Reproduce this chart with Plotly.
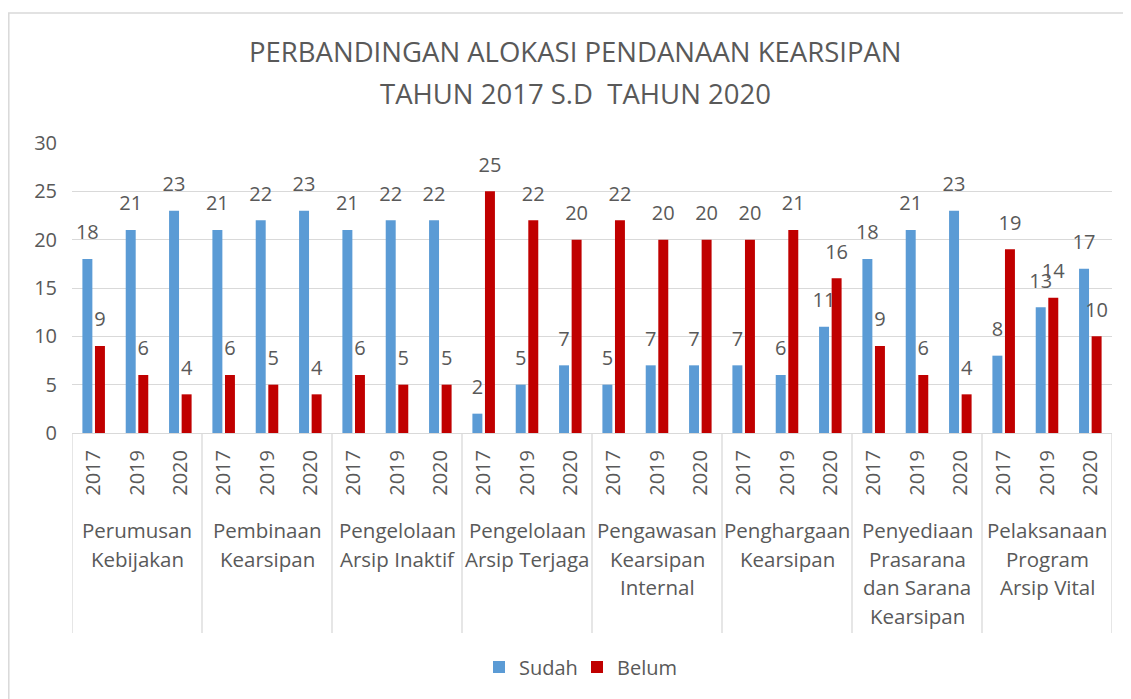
import plotly.graph_objects as go

groups = ["Perumusan<br>Kebijakan", "Pembinaan<br>Kearsipan", "Pengelolaan<br>Arsip Inaktif",
          "Pengelolaan<br>Arsip Terjaga", "Pengawasan<br>Kearsipan<br>Internal",
          "Penghargaan<br>Kearsipan", "Penyediaan<br>Prasarana<br>dan Sarana<br>Kearsipan",
          "Pelaksanaan<br>Program<br>Arsip Vital"]
years = ["2017", "2019", "2020"]
sudah = [18, 21, 23, 21, 22, 23, 21, 22, 22, 2, 5, 7, 5, 7, 7, 7, 6, 11, 18, 21, 23, 8, 13, 17]
belum = [9, 6, 4, 6, 5, 4, 6, 5, 5, 25, 22, 20, 22, 20, 20, 20, 21, 16, 9, 6, 4, 19, 14, 10]
title1 = "PERBANDINGAN ALOKASI PENDANAAN KEARSIPAN"
title2 = "TAHUN 2017 S.D  TAHUN 2020"

FONT = "Open Sans"
TXT = "#595959"
GRID = "#d9d9d9"
BLUE = "#5b9bd5"
RED = "#c00000"

n = len(sudah)
xs = list(range(n))
ticktext = [years[i % len(years)] for i in xs]

W = 0.23
OFF_S = -0.26
OFF_B = 0.03

fig = go.Figure()
fig.add_trace(go.Bar(name="Sudah", x=xs, y=sudah, width=W, offset=OFF_S, legend="legend",
                     marker=dict(color=BLUE, line=dict(width=0))))
fig.add_trace(go.Bar(name="Belum", x=xs, y=belum, width=W, offset=OFF_B, legend="legend2",
                     marker=dict(color=RED, line=dict(width=0))))

# data labels
for vals, off in ((sudah, OFF_S), (belum, OFF_B)):
    fig.add_trace(go.Scatter(x=[i + off + W / 2 for i in xs], y=vals, mode="markers+text",
                             text=[str(v) for v in vals], textposition="top center",
                             textfont=dict(family=FONT, size=20, color=TXT),
                             marker=dict(size=22, opacity=0), showlegend=False,
                             hoverinfo="skip", cliponaxis=False))

# page body has an 8px margin: figure starts at (8, 8)
OX, OY = 8, 8
PL, PT, PR, PB = 72, 143, 1112, 433   # plot area in window pixels
PLOT_H = float(PB - PT)
PLOT_W = float(PR - PL)

shapes = []
ng = len(groups)
per = len(years)
for g in range(ng + 1):
    xb = g * per - 0.5
    shapes.append(dict(type="line", xref="x", yref="paper", x0=xb, x1=xb,
                       y0=0, y1=-200 / PLOT_H, line=dict(color=GRID, width=1.3)))
# outer chart border
shapes.append(dict(type="rect", xref="paper", yref="paper",
                   x0=(8.8 - PL) / PLOT_W, x1=(1145 - PL) / PLOT_W,
                   y0=(PB - 720) / PLOT_H, y1=(PB - 13) / PLOT_H,
                   line=dict(color=GRID, width=1.5), fillcolor="rgba(0,0,0,0)", layer="below"))

annotations = []
for g, lab in enumerate(groups):
    cx = g * per + (per - 1) / 2
    for k, line in enumerate(lab.split("<br>")):
        annotations.append(dict(x=cx, xref="x", y=0, yref="paper", yanchor="middle",
                                yshift=-97 - k * 28.5, text=line, showarrow=False,
                                font=dict(family=FONT, size=20.5, color=TXT)))
annotations.append(dict(x=(575 - PL) / PLOT_W, xref="paper", y=(PB - 52) / PLOT_H, yref="paper",
                        xanchor="center", yanchor="middle", text=title1, showarrow=False,
                        font=dict(family=FONT, size=27.5, color=TXT)))
annotations.append(dict(x=(575 - PL) / PLOT_W, xref="paper", y=(PB - 93) / PLOT_H, yref="paper",
                        xanchor="center", yanchor="middle", text=title2, showarrow=False,
                        font=dict(family=FONT, size=27.5, color=TXT)))

legend_common = dict(orientation="h", xanchor="left", y=(PB - 667) / PLOT_H, yanchor="middle",
                     font=dict(family=FONT, size=20, color=TXT), itemwidth=30,
                     bgcolor="rgba(0,0,0,0)")

fig.update_layout(
    width=1131 - OX, height=699 - OY,
    margin=dict(l=PL - OX, r=1131 - PR, t=PT - OY, b=699 - PB),
    paper_bgcolor="white", plot_bgcolor="white",
    font=dict(family=FONT, color=TXT, size=20),
    barmode="overlay",
    showlegend=True,
    legend=dict(x=(479 - PL) / PLOT_W, **legend_common),
    legend2=dict(x=(577 - PL) / PLOT_W, **legend_common),
    shapes=shapes, annotations=annotations,
    xaxis=dict(range=[-0.5, n - 0.5], tickmode="array", tickvals=xs, ticktext=ticktext,
               tickangle=-90, showgrid=False, zeroline=False, showline=False,
               ticks="", ticklabelstandoff=12,
               tickfont=dict(family=FONT, size=20, color=TXT), fixedrange=True),
    yaxis=dict(range=[0, 30], tickvals=[0, 5, 10, 15, 20, 25, 30], showgrid=True,
               gridcolor=GRID, gridwidth=1.3, zeroline=True, zerolinecolor=GRID,
               zerolinewidth=1.3, showline=False, ticks="", ticklabelstandoff=14,
               tickfont=dict(family=FONT, size=20, color=TXT), fixedrange=True),
)

fig.write_html("out.html")
